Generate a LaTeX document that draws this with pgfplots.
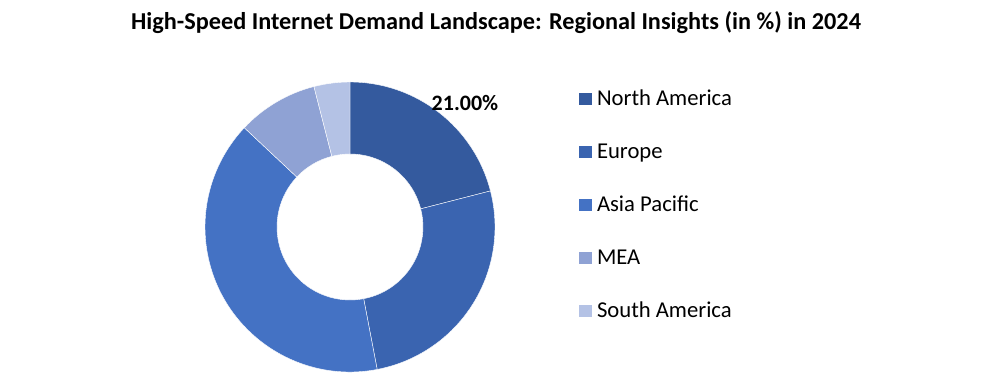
\documentclass[border=0pt]{standalone}
\usepackage{pgfplots}
\usepackage{pgfplotstable}
\pgfplotsset{compat=1.18}
\usepackage{fontspec}
\setmainfont{Carlito}
\definecolor{col0}{HTML}{345A9E}
\definecolor{col1}{HTML}{3A64B0}
\definecolor{col2}{HTML}{4472C4}
\definecolor{col3}{HTML}{8FA2D4}
\definecolor{col4}{HTML}{B4C2E5}
\pgfplotstableread{
name value
{North America} 21
Europe 26
{Asia Pacific} 40
MEA 9
{South America} 4
}\donutdata
\begin{document}
\pgfmathsetmacro\cum{0}%
\pgfplotsforeachungrouped \i in {0,...,4}{%
  \pgfplotstablegetelem{\i}{value}\of\donutdata
  \pgfmathsetmacro\sa{90-3.6*\cum}%
  \pgfmathsetmacro\cum{\cum+\pgfplotsretval}%
  \pgfmathsetmacro\ea{90-3.6*\cum}%
  \expandafter\xdef\csname sa\i\endcsname{\sa}%
  \expandafter\xdef\csname ea\i\endcsname{\ea}%
}%
\begin{tikzpicture}
\path[use as bounding box] (0,0) rectangle (744pt,281.25pt);
\begin{axis}[
  at={(0,0)}, anchor=south west,
  x=0.75pt, y=0.75pt,
  xmin=0, xmax=992, ymin=0, ymax=375,
  hide axis, clip=false,
  legend image code/.code={\path[#1] (0pt,-5.2pt) rectangle (9.5pt,4.3pt);},
  legend cell align=left,
  legend style={at={(axis cs:579,284)}, anchor=north west, draw=none, fill=none,
    inner sep=0pt, outer sep=0pt, row sep=28.8pt, column sep=4pt,
    font=\fontsize{17}{19}\selectfont,
    nodes={inner sep=0pt, outer sep=0pt, text height=10.95pt, text depth=0pt}},
]
\pgfplotsinvokeforeach{0,...,4}{%
  \fill[col#1, draw=white, line width=0.3pt]
    (axis cs:{350+145*cos(\csname sa#1\endcsname)},{148+145*sin(\csname sa#1\endcsname)})
    arc[start angle=\csname sa#1\endcsname, end angle=\csname ea#1\endcsname, radius=108.75pt]
    -- (axis cs:{350+73*cos(\csname ea#1\endcsname)},{148+73*sin(\csname ea#1\endcsname)})
    arc[start angle=\csname ea#1\endcsname, end angle=\csname sa#1\endcsname, radius=54.75pt]
    -- cycle;
}
\addlegendimage{fill=col0, draw=none}\addlegendentry{North America}
\addlegendimage{fill=col1, draw=none}\addlegendentry{Europe}
\addlegendimage{fill=col2, draw=none}\addlegendentry{Asia Pacific}
\addlegendimage{fill=col3, draw=none}\addlegendentry{MEA}
\addlegendimage{fill=col4, draw=none}\addlegendentry{South America}
\node[font=\bfseries\fontsize{16.5}{18}\selectfont, inner sep=0pt] at (axis cs:465,272) {21.00\%};
\node[font=\bfseries\fontsize{18.2}{20}\selectfont, inner sep=0pt] at (axis cs:496,352.5) {High-Speed Internet Demand Landscape: Regional Insights (in \%) in 2024};
\end{axis}
\end{tikzpicture}
\end{document}
